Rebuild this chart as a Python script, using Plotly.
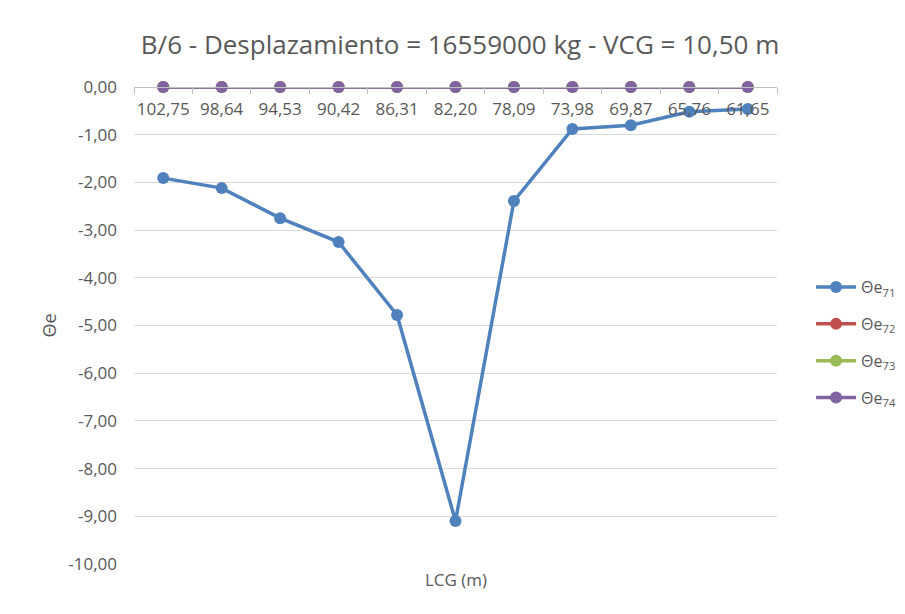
import plotly.graph_objects as go

# LCG categories (m), as shown on the axis
lcg = ["102,75", "98,64", "94,53", "90,42", "86,31", "82,20",
       "78,09", "73,98", "69,87", "65,76", "61,65"]

# heel angle series
theta_71 = [-1.91, -2.12, -2.75, -3.25, -4.78, -9.10, -2.39, -0.88, -0.80, -0.52, -0.46]
theta_72 = [0, 0, 0, 0, 0, 0, 0, 0, 0, 0, 0]
theta_73 = [0, 0, 0, 0, 0, 0, 0, 0, 0, 0, 0]
theta_74 = [0, 0, 0, 0, 0, 0, 0, 0, 0, 0, 0]

y_ticks = [0, -1, -2, -3, -4, -5, -6, -7, -8, -9, -10]
y_labels = ["0,00", "-1,00", "-2,00", "-3,00", "-4,00", "-5,00",
            "-6,00", "-7,00", "-8,00", "-9,00", "-10,00"]

series = [
    ("Θe<sub>71</sub>", theta_71, "#4F81BD"),
    ("Θe<sub>72</sub>", theta_72, "#C0504D"),
    ("Θe<sub>73</sub>", theta_73, "#9BBB59"),
    ("Θe<sub>74</sub>", theta_74, "#8064A2"),
]

fig = go.Figure()
for i, (name, vals, col) in enumerate(series):
    fig.add_trace(go.Scatter(
        x=lcg, y=vals, name=name, mode="lines+markers",
        line=dict(color=col, width=3.5),
        marker=dict(color=col, size=12),
        cliponaxis=False, legendgroup=str(i),
    ))

grey = "#595959"
# the page is shown with an 8px body margin, so margins are shifted by 8px
fig.update_layout(
    width=905, height=614,
    margin=dict(l=126, r=133, t=79, b=58),
    paper_bgcolor="white", plot_bgcolor="white",
    font=dict(family="Open Sans", color=grey, size=16),
    title=dict(text="B/6 - Desplazamiento = 16559000 kg - VCG = 10,50 m",
               x=0.4995, xanchor="center", y=0.94, yanchor="middle",
               font=dict(size=26, color=grey)),
    xaxis=dict(
        type="category", range=[-0.5, 10.5],
        anchor="free", position=1, side="bottom",
        showline=True, linecolor="#bfbfbf", linewidth=1,
        ticks="outside", tickson="boundaries", ticklen=6, tickcolor="#bfbfbf",
        showgrid=False, zeroline=False, automargin=False,
        tickangle=0, ticklabelstandoff=7,
        tickfont=dict(size=17, color=grey),
    ),
    yaxis=dict(
        range=[-10, 0], tickvals=y_ticks, ticktext=y_labels,
        showgrid=True, gridcolor="#d9d9d9", gridwidth=1,
        zeroline=False, showline=False, ticks="", automargin=False,
        ticklabelstandoff=16,
        tickfont=dict(size=17, color=grey),
        title=dict(text="Θe", font=dict(size=18, color=grey), standoff=6),
    ),
    legend=dict(x=1.053, xanchor="left", y=0.464, yanchor="middle",
                font=dict(size=16, color=grey), tracegroupgap=13,
                itemwidth=40),
    annotations=[dict(text="LCG (m)", xref="paper", yref="paper",
                      x=0.5, y=-0.005, xanchor="center", yanchor="top",
                      showarrow=False, font=dict(size=17, color=grey))],
)

fig.write_html("out.html")
